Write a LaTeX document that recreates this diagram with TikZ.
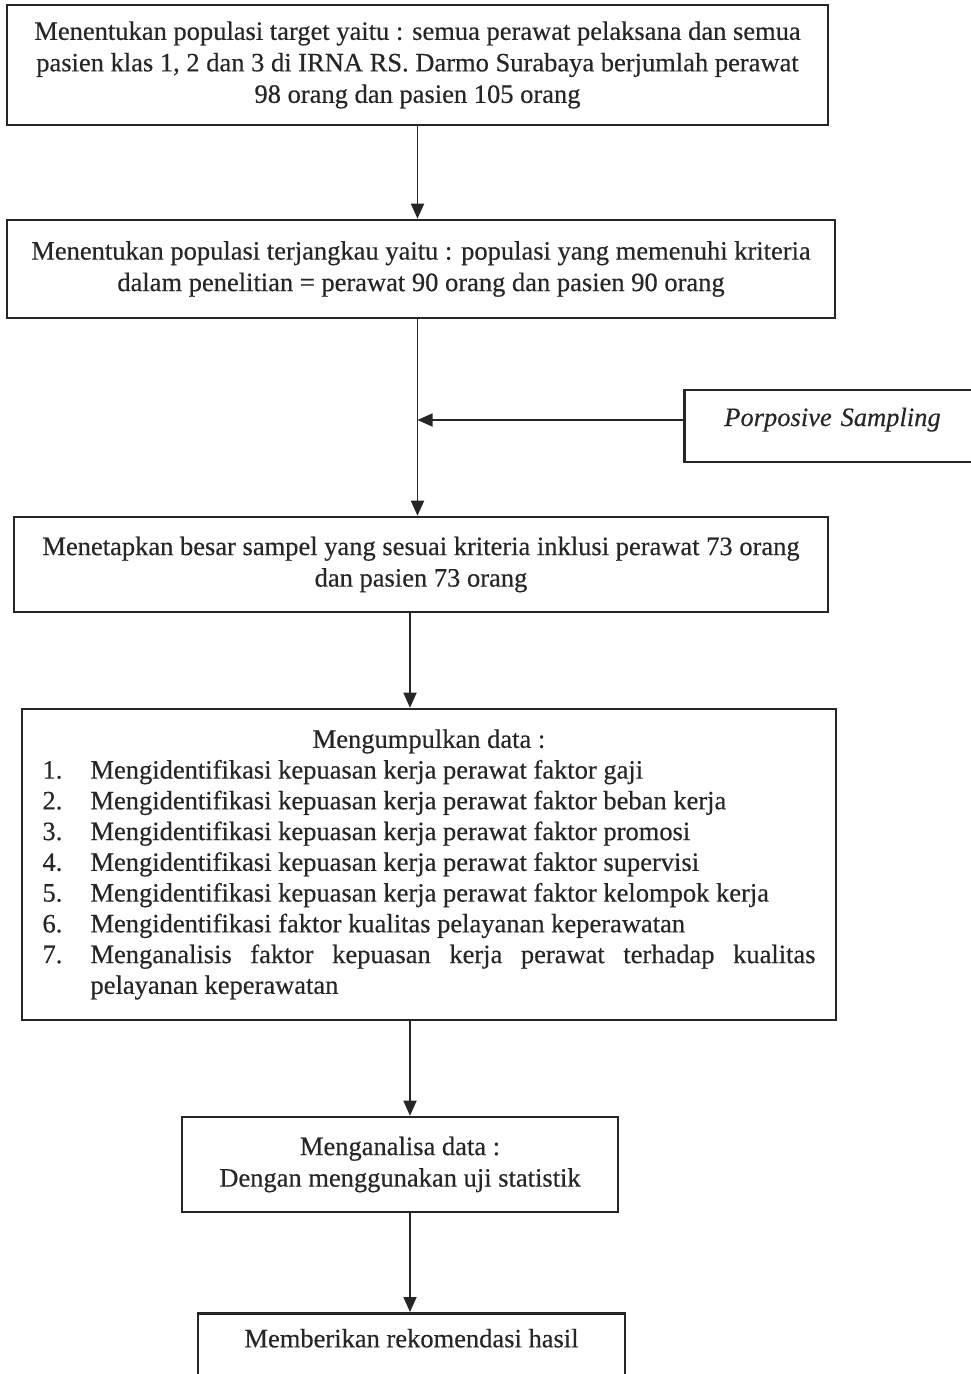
\documentclass[tikz,border=0pt]{standalone}
\usepackage{fontspec}
\setmainfont[FakeBold=0.4]{Liberation Serif}
\usetikzlibrary{arrows.meta}
\newcommand\numitem[2]{\par\hangindent=48pt\hangafter=1\noindent\makebox[48pt][l]{#1}#2\par}
\begin{document}
\begin{tikzpicture}[x=1pt,y=-1pt,
  box/.style={draw=black!85, line width=2.6pt, inner sep=0pt, text=black!85, font=\fontsize{26.5}{31.5}\selectfont},
  boxc/.style={box, align=center},
  arr/.style={draw=black!85, line width=1.8pt, -{Triangle[length=15pt,width=13pt]}}]
\useasboundingbox (0,0) rectangle (971,1374);
\clip (0,0) rectangle (971,1374);

\node[boxc, minimum width=821pt, minimum height=120pt] (b1) at (417.5,65)
  {Menentukan populasi target yaitu : semua perawat pelaksana dan semua\\
   pasien klas 1, 2 dan 3 di IRNA RS. Darmo Surabaya berjumlah perawat\\
   98 orang dan pasien 105 orang};

\node[box, anchor=west, align=left, text width=280pt, inner xsep=40pt,
  text height=18pt, text depth=18pt, inner ysep=18pt,
  font=\fontsize{26.5}{31.5}\selectfont\itshape] (ps) at (683,426) {Porposive Sampling};

\node[boxc, minimum width=828pt, minimum height=98pt] (b2) at (421,269)
  {Menentukan populasi terjangkau yaitu : populasi yang memenuhi kriteria\\
   dalam penelitian = perawat 90 orang dan pasien 90 orang};

\node[boxc, minimum width=814pt, minimum height=95pt] (b3) at (421,564.5)
  {Menetapkan besar sampel yang sesuai kriteria inklusi perawat 73 orang\\
   dan pasien 73 orang};

\node[box, minimum width=814pt, minimum height=311pt] (b4) at (429,864.5)
  {\begin{minipage}[t]{773pt}\fontsize{26.5}{30.75}\selectfont\parindent=0pt
   {\centering Mengumpulkan data :\par}
   \numitem{1.}{Mengidentifikasi kepuasan kerja perawat faktor gaji}
   \numitem{2.}{Mengidentifikasi kepuasan kerja perawat faktor beban kerja}
   \numitem{3.}{Mengidentifikasi kepuasan kerja perawat faktor promosi}
   \numitem{4.}{Mengidentifikasi kepuasan kerja perawat faktor supervisi}
   \numitem{5.}{Mengidentifikasi kepuasan kerja perawat faktor kelompok kerja}
   \numitem{6.}{Mengidentifikasi faktor kualitas pelayanan keperawatan}
   \numitem{7.}{Menganalisis faktor kepuasan kerja perawat terhadap kualitas pelayanan keperawatan}
   \end{minipage}};

\node[boxc, minimum width=436pt, minimum height=95pt] (b5) at (400,1164.5)
  {Menganalisa data :\\ Dengan menggunakan uji statistik};

\node[boxc, anchor=north, minimum width=427pt, text height=18pt, text depth=60pt, inner ysep=16pt]
  (b6) at (411.5,1312) {Memberikan rekomendasi hasil};

% connectors
\coordinate (jn) at (417.5,420);
\draw[arr] (b1.south) -- (b1.south |- b2.north);
\draw[arr] (b1.south |- b2.south) -- (b1.south |- b3.north);
\draw[arr] (ps.west |- jn) -- (jn);
\coordinate (a3) at ([xshift=-11pt]b3.south);
\draw[arr] (a3) -- (a3 |- b4.north);
\coordinate (a4) at ([xshift=-19pt]b4.south);
\draw[arr] (a4) -- (a4 |- b5.north);
\coordinate (a5) at ([xshift=10pt]b5.south);
\draw[arr] (a5) -- (a5 |- b6.north);
\end{tikzpicture}
\end{document}
